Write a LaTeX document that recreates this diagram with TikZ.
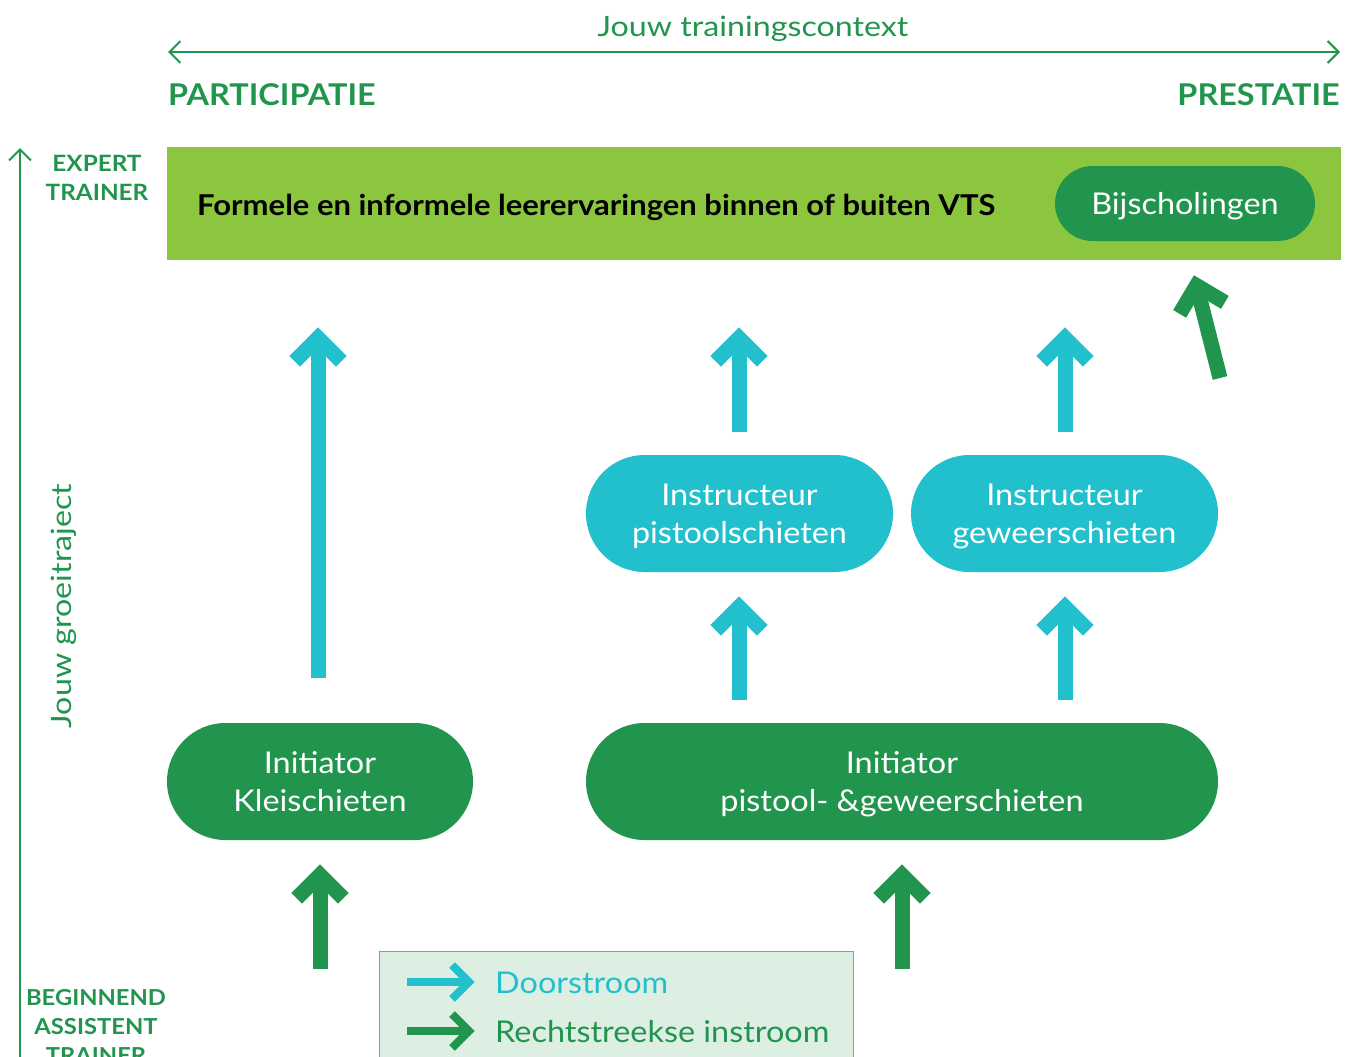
\documentclass[tikz,border=0pt]{standalone}
\usepackage{fontspec}
\setmainfont{Lato}[FakeStretch=1.08]
\newfontfamily\widefont{Lato}[FakeStretch=1.15]
\usetikzlibrary{arrows.meta,shapes.misc,calc}
\definecolor{dgreen}{HTML}{21954E}
\definecolor{cyanb}{HTML}{22C0CD}
\definecolor{lime}{HTML}{8CC63F}
\definecolor{legbg}{HTML}{DDEEE3}
\tikzset{
  pill/.style={rounded rectangle, inner sep=0pt, minimum height=117pt},
  pilltext/.style={inner sep=0pt, text=white, align=center, font=\fontsize{30}{38}\selectfont},
  thinarrow/.style={draw=dgreen, line width=2pt, -{Straight Barb[length=11pt,width=22pt,line width=2pt]}},
  sidelabel/.style={text=dgreen, align=center, font=\fontsize{22}{29}\selectfont\bfseries},
}
\newcommand\fatarrow[5]{%
  \draw[#1, line width=#2, line cap=butt] (#4) -- (#5);
  \draw[#1, line width=#2, line cap=butt, line join=miter]
    ($(#5)!#3!45:(#4)$) -- (#5) -- ($(#5)!#3!-45:(#4)$);
}
\begin{document}
\begin{tikzpicture}[x=1pt,y=-1pt]
\useasboundingbox (0,0) rectangle (1349,1057);
% top context arrow
\coordinate (ctxL) at (168,52);
\coordinate (ctxR) at (1340,52);
\draw[draw=dgreen, line width=2pt, {Straight Barb[length=11pt,width=22pt,line width=2pt]}-{Straight Barb[length=11pt,width=22pt,line width=2pt]}] (ctxL) -- (ctxR);
\node[text=dgreen, anchor=base, inner sep=0pt, font=\fontsize{28}{34}\selectfont\widefont] (ctx) at (753,37) {Jouw trainingscontext};
\node[text=dgreen, font=\fontsize{30}{36}\selectfont\bfseries, anchor=base west, inner sep=0pt] (part) at (168,105) {PARTICIPATIE};
\node[text=dgreen, font=\fontsize{30}{36}\selectfont\bfseries, anchor=base east, inner sep=0pt] (prest) at (1340,105) {PRESTATIE};
% vertical growth arrow
\coordinate (grB) at (20,1060);
\coordinate (grT) at (20,148);
\draw[thinarrow] (grB) -- (grT);
\node[sidelabel, font=\fontsize{22.5}{29}\selectfont\bfseries] (expert) at (97,178) {EXPERT\\TRAINER};
\node[sidelabel, anchor=north] (begin) at (96,986) {BEGINNEND\\ASSISTENT\\TRAINER};
\node[text=dgreen, rotate=90, font=\fontsize{28}{34}\selectfont\widefont] (groei) at (64,606) {Jouw groeitraject};
% top bar
\node[fill=lime, minimum width=1174pt, minimum height=113pt, inner sep=0pt, anchor=north west] (bar) at (167,147) {};
\node[anchor=base west, inner sep=0pt, font=\fontsize{28.7}{34}\selectfont\bfseries] (formele) at (197,215) {Formele en informele leerervaringen binnen of buiten VTS};
\node[pill, fill=dgreen, minimum width=260pt, minimum height=75pt, text=white, text height=22pt, text depth=0pt, font=\fontsize{30}{36}\selectfont] (bijs) at (1185,203.5) {Bijscholingen};
% pills
\node[pill, fill=cyanb, minimum width=307pt] (ipist) at (739.5,513.5) {};
\node[pill, fill=cyanb, minimum width=307pt] (igew) at (1064.5,513.5) {};
\node[pill, fill=dgreen, minimum width=306pt] (iklei) at (320,781.5) {};
\node[pill, fill=dgreen, minimum width=632pt] (ipg) at (902,781.5) {};
\node[pilltext] (ipistT) at ([yshift=-3pt]ipist.center) {Instructeur\strut\\pistoolschieten\strut};
\node[pilltext] (igewT) at ([yshift=-3pt]igew.center) {Instructeur\strut\\geweerschieten\strut};
\node[pilltext] (ikleiT) at ([yshift=-3pt]iklei.center) {Initiator\strut\\Kleischieten\strut};
\node[pilltext] (ipgT) at ([yshift=-3pt]ipg.center) {Initiator\strut\\pistool- \&geweerschieten\strut};
% cyan arrows
\coordinate (a1s) at (318,678); \coordinate (a1e) at (318,338);
\coordinate (a2s) at (739,432); \coordinate (a2e) at (739,338);
\coordinate (a3s) at (1065,432); \coordinate (a3e) at (1065,338);
\coordinate (a4s) at (739,700); \coordinate (a4e) at (739,607);
\coordinate (a5s) at (1065,700); \coordinate (a5e) at (1065,607);
\fatarrow{cyanb}{15pt}{33pt}{a1s}{a1e}
\fatarrow{cyanb}{15pt}{33pt}{a2s}{a2e}
\fatarrow{cyanb}{15pt}{33pt}{a3s}{a3e}
\fatarrow{cyanb}{15pt}{33pt}{a4s}{a4e}
\fatarrow{cyanb}{15pt}{33pt}{a5s}{a5e}
% green arrows
\coordinate (g1s) at (320,969); \coordinate (g1e) at (320,875);
\coordinate (g2s) at (902,969); \coordinate (g2e) at (902,875);
\coordinate (g3s) at (1220,378); \coordinate (g3e) at (1196.5,285.5);
\fatarrow{dgreen}{15pt}{33pt}{g1s}{g1e}
\fatarrow{dgreen}{15pt}{33pt}{g2s}{g2e}
\fatarrow{dgreen}{15pt}{33pt}{g3s}{g3e}
% legend
\node[draw=dgreen!70, line width=1pt, fill=legbg, minimum width=474pt, minimum height=130pt, anchor=north west, inner sep=0pt] (legend) at (379,951) {};
\coordinate (l1s) at (407,982); \coordinate (l1e) at (469,982);
\coordinate (l2s) at (407,1031); \coordinate (l2e) at (469,1031);
\fatarrow{cyanb}{8pt}{24pt}{l1s}{l1e}
\fatarrow{dgreen}{8pt}{24pt}{l2s}{l2e}
\node[text=cyanb, anchor=base west, inner sep=0pt, font=\fontsize{30}{36}\selectfont] (door) at (495,993) {Doorstroom};
\node[text=dgreen, anchor=base west, inner sep=0pt, font=\fontsize{30}{36}\selectfont] (recht) at (495,1042) {Rechtstreekse instroom};
\end{tikzpicture}
\end{document}
